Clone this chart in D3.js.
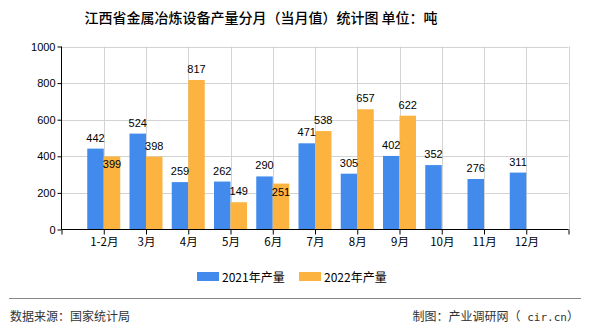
<!DOCTYPE html>
<html><head><meta charset="utf-8">
<script src="https://cdn.jsdelivr.net/npm/d3@7"></script>
<style>
body{margin:0;background:#fff;}
text{font-family:"Liberation Sans","Noto Sans CJK SC",sans-serif;}
.cjk{font-family:"Noto Sans CJK SC",sans-serif;}
</style></head>
<body><svg id="c" width="590" height="330"></svg>
<script>
const categories = ["1-2月","3月","4月","5月","6月","7月","8月","9月","10月","11月","12月"];
const values2021 = [442,524,259,262,290,471,305,402,352,276,311];
const values2022 = [399,398,817,149,251,538,657,622];
const seriesNames = ["2021年产量","2022年产量"];
const yTicks = [0,200,400,600,800,1000];
const colors = ["#428bec","#fcb340"];

const svg = d3.select("#c");
const x = d3.scaleLinear().domain([0,12]).range([61.5,568.5]);
const y = d3.scaleLinear().domain([0,1000]).range([229.5,46.5]);
const bw = 16.5;

// gridlines
svg.append("g").selectAll("line").data(yTicks.filter(d=>d>0)).join("line")
  .attr("x1",61.5).attr("x2",568.5).attr("y1",d=>Math.round(y(d))+0.5).attr("y2",d=>Math.round(y(d))+0.5)
  .attr("stroke","#d3d3d3").attr("stroke-width",1);
svg.append("g").selectAll("line").data(d3.range(1,13)).join("line")
  .attr("x1",d=>Math.round(x(d))+0.5).attr("x2",d=>Math.round(x(d))+0.5)
  .attr("y1",46.5).attr("y2",229.5)
  .attr("stroke","#d3d3d3").attr("stroke-width",1);

// bars
const g = svg.append("g");
g.selectAll(".b1").data(values2021).join("rect")
  .attr("x",(d,i)=>x(i+1)-bw).attr("width",bw)
  .attr("y",d=>y(d)).attr("height",d=>y(0)-y(d)).attr("fill",colors[0]);
g.selectAll(".b2").data(values2022).join("rect")
  .attr("x",(d,i)=>x(i+1)).attr("width",bw)
  .attr("y",d=>y(d)).attr("height",d=>y(0)-y(d)).attr("fill",colors[1]);

// axes
const yAxis = d3.axisLeft(y).tickValues(yTicks).tickSize(4).tickFormat(d3.format("d"));
const ya = svg.append("g").attr("transform","translate(61.5,0)").call(yAxis);
ya.select(".domain").attr("stroke","#000").attr("d","M0,46.5V229.5");
ya.selectAll(".tick line").attr("stroke","#000");
ya.selectAll("text").attr("font-size",11).attr("fill","#000").attr("x",-6);

const xAxis = d3.axisBottom(x).tickValues(d3.range(0,13)).tickSize(5)
  .tickFormat(i=>categories[i-1]||"");
const xa = svg.append("g").attr("transform","translate(0,229.5)").call(xAxis);
xa.select(".domain").attr("stroke","#000").attr("d","M61.5,0H568.5");
xa.selectAll(".tick line").attr("stroke","#000");
xa.selectAll("text").attr("font-size",11.5).attr("fill","#000").attr("y",8).attr("class","cjk");

// labels
const lab = svg.append("g").attr("font-size",11).attr("fill","#000").attr("text-anchor","middle");
values2021.forEach((v,i)=>{
  lab.append("text").attr("x",x(i+1)-bw/2).attr("y",y(v)-7).text(v);
});
values2022.forEach((v,i)=>{
  const a = values2021[i];
  const inside = Math.abs(y(v)-y(a)) < 12;
  lab.append("text").attr("x",x(i+1)+bw/2).attr("y",inside? y(v)+12 : y(v)-7).text(v);
});

// title
svg.append("text").attr("class","cjk").attr("x",261).attr("y",23).attr("text-anchor","middle")
  .attr("font-size",14).attr("fill","#000").attr("font-weight",500)
  .text("江西省金属冶炼设备产量分月（当月值）统计图 单位：吨");

// legend
const lg = svg.append("g");
seriesNames.forEach((n,i)=>{
  const lx = 197 + i*102;
  lg.append("rect").attr("x",lx).attr("y",272).attr("width",22).attr("height",9).attr("fill",colors[i]);
  lg.append("text").attr("class","cjk").attr("x",lx+25).attr("y",281.5).attr("font-size",12).attr("fill","#000").text(n);
});

// footer
svg.append("line").attr("x1",9).attr("x2",581).attr("y1",298.5).attr("y2",298.5).attr("stroke","#888").attr("stroke-width",1);
svg.append("text").attr("class","cjk").attr("x",10).attr("y",321).attr("font-size",12).attr("fill","#333").text("数据来源：国家统计局");
const ft = svg.append("text").attr("class","cjk").attr("x",579).attr("y",321).attr("text-anchor","end").attr("font-size",12).attr("fill","#333");
ft.append("tspan").text("制图：产业调研网（");
ft.append("tspan").attr("font-family","DejaVu Sans Mono").attr("font-size",11).text(" cir.cn");
ft.append("tspan").text("）");
</script></body></html>
